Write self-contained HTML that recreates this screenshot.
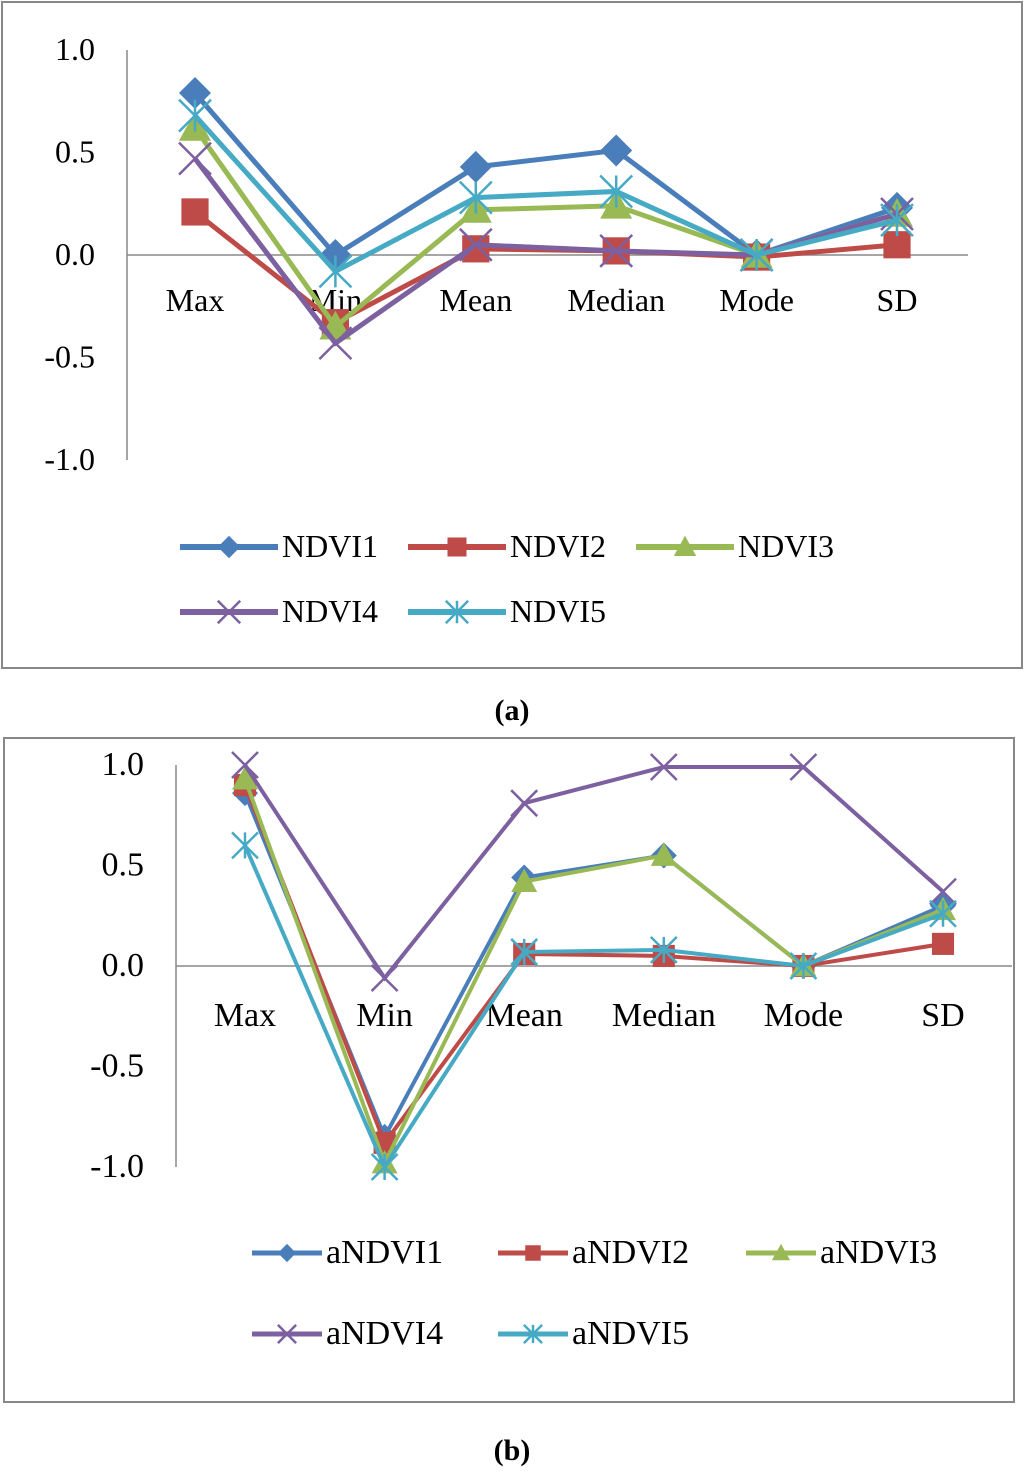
<!DOCTYPE html>
<html><head><meta charset="utf-8"><style>
body{margin:0;background:#fff;width:1024px;height:1470px;overflow:hidden;font-family:"Liberation Serif",serif}
svg text{font-family:"Liberation Serif",serif}
</style></head><body>
<svg id="s" width="1024" height="1470"></svg>
<script>
const categories=["Max","Min","Mean","Median","Mode","SD"];
const yTicks=[1.0,0.5,0.0,-0.5,-1.0];
const namesA=["NDVI1","NDVI2","NDVI3","NDVI4","NDVI5"];
const ndvi1=[0.79,0.0,0.43,0.51,0.0,0.23];
const ndvi2=[0.21,-0.33,0.03,0.02,-0.01,0.05];
const ndvi3=[0.62,-0.35,0.22,0.24,0.0,0.2];
const ndvi4=[0.47,-0.43,0.05,0.02,0.0,0.2];
const ndvi5=[0.68,-0.08,0.28,0.31,0.0,0.17];
const namesB=["aNDVI1","aNDVI2","aNDVI3","aNDVI4","aNDVI5"];
const a1=[0.86,-0.85,0.44,0.55,0.0,0.3];
const a2=[0.9,-0.88,0.06,0.05,0.0,0.11];
const a3=[0.93,-0.98,0.42,0.55,0.0,0.28];
const a4=[1.0,-0.06,0.81,0.99,0.99,0.37];
const a5=[0.6,-1.0,0.07,0.08,0.0,0.26];
const colors=["#4a7ebb","#be4b48","#98b954","#7d60a0","#46aac5"];
const markers=["diamond","square","triangle","x","star"];
const NS="http://www.w3.org/2000/svg";
const svg=document.getElementById('s');
function mk(t,a,p){const e=document.createElementNS(NS,t);for(const k in a)e.setAttribute(k,a[k]);(p||svg).appendChild(e);return e;}
function marker(g,type,x,y,c,s){
 if(type=="diamond")return mk('polygon',{points:`${x},${y-s} ${x+s},${y} ${x},${y+s} ${x-s},${y}`,fill:c},g);
 if(type=="square")return mk('rect',{x:x-s*0.85,y:y-s*0.85,width:s*1.7,height:s*1.7,fill:c},g);
 if(type=="triangle")return mk('polygon',{points:`${x},${y-s} ${x+s},${y+s*0.8} ${x-s},${y+s*0.8}`,fill:c},g);
 if(type=="x")return mk('path',{d:`M${x-s} ${y-s}L${x+s} ${y+s}M${x-s} ${y+s}L${x+s} ${y-s}`,stroke:c,'stroke-width':2.5,fill:'none'},g);
 return mk('path',{d:`M${x-s} ${y-s}L${x+s} ${y+s}M${x-s} ${y+s}L${x+s} ${y-s}M${x} ${y-s}L${x} ${y+s}`,stroke:c,'stroke-width':2.5,fill:'none'},g);
}
function chart(cfg){
 const g=mk('g',{});
 
 
 const fr=mk('rect',{x:cfg.fx,y:cfg.fy,width:cfg.fw,height:cfg.fh,fill:'#fff',stroke:'#888','stroke-width':2},g);
 
 const Y=v=>cfg.y0-v*cfg.unit, X=i=>cfg.x0+i*cfg.dx;
 const ax=mk('line',{x1:cfg.ax,y1:Y(1),x2:cfg.ax,y2:Y(-1),stroke:'#888','stroke-width':1.5},g);
 
 const zl=mk('line',{x1:cfg.ax,y1:Y(0),x2:cfg.zx2,y2:Y(0),stroke:'#888','stroke-width':1.5},g);
 
 yTicks.forEach(v=>{const t=mk('text',{x:cfg.ax-cfg.tickOff,y:Y(v)+10,'text-anchor':'end','font-size':cfg.fs,fill:'#000'},g);t.textContent=v.toFixed(1);
  });
 categories.forEach((c,i)=>{const t=mk('text',{x:X(i),y:Y(0)+cfg.catOff,'text-anchor':'middle','font-size':cfg.fs,fill:'#000'},g);t.textContent=c;
  });
 cfg.series.forEach((d,k)=>{
  const pl=mk('polyline',{points:d.map((v,i)=>X(i)+','+Y(v)).join(' '),fill:'none',stroke:colors[k],'stroke-width':cfg.lw},g);
  
  d.forEach((v,i)=>{const m=marker(g,markers[k],X(i),Y(v),colors[k],cfg.ms);
   });
 });
 cfg.names.forEach((n,k)=>{
  const lx=cfg.lx[k%3], ly=cfg.ly[Math.floor(k/3)];
  const lg=mk('g',{},g);
  mk('line',{x1:lx,y1:ly,x2:lx+cfg.llen,y2:ly,stroke:colors[k],'stroke-width':cfg.lw+1},lg);
  marker(lg,markers[k],lx+cfg.llen/2,ly,colors[k],cfg.ms*0.7);
  const t=mk('text',{x:lx+cfg.llen+4,y:ly+10,'font-size':cfg.fs,fill:'#000'},lg);t.textContent=n;
 });
}
chart({name:'chart-a',fx:2,fy:2,fw:1020,fh:666,x0:195,dx:140.4,y0:255,unit:205,ax:127,zx2:968,fs:32,tickOff:32,catOff:56,lw:5,ms:16,series:[ndvi1,ndvi2,ndvi3,ndvi4,ndvi5],names:namesA,lx:[180,408,636],ly:[547,612],llen:98});
chart({name:'chart-b',fx:4,fy:738,fw:1010,fh:664,x0:245,dx:139.6,y0:966,unit:201,ax:176,zx2:1012,fs:34,tickOff:32,catOff:60,lw:4,ms:13,series:[a1,a2,a3,a4,a5],names:namesB,lx:[252,498,746],ly:[1253,1334],llen:70});
[["(a)",710],["(b)",1450]].forEach(([s,y])=>{const t=mk('text',{x:512,y:y+10,'text-anchor':'middle','font-size':30,'font-weight':'bold'});t.textContent=s;
 });
</script></body></html>
